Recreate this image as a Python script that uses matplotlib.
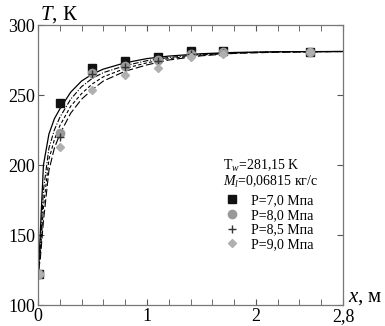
import matplotlib as mpl

mpl.use("Agg")

import matplotlib.pyplot as plt
from matplotlib.ticker import MultipleLocator

# measured points
x_pts = [0.01, 0.2, 0.5, 0.8, 1.1, 1.4, 1.7, 2.5]
t_p70 = [122, 244, 269, 274, 277.5, 281.5, 281.5, 280.5]
t_p80 = [122, 223, 266, 271, 275, 279.5, 280.5, 280.5]
t_p85 = [122, 220, 265, 270, 274, 279, 280, 280.5]
t_p90 = [122, 213, 253.5, 264, 269.5, 277, 279, 280.5]

# calculated curves
x_cur = [0.005, 0.02, 0.05, 0.1, 0.15, 0.2, 0.3, 0.4, 0.5, 0.6, 0.8, 1.0, 1.2, 1.5, 1.8, 2.2, 2.8]
c_p70 = [125, 150, 200, 222, 233, 240, 252, 260, 265, 268.5, 273, 276, 277.8, 279.5, 280.4, 280.9, 281.1]
c_p80 = [125, 140, 182, 212, 225, 234, 247, 256, 262, 266, 271, 274.5, 276.8, 279, 280.2, 280.8, 281.1]
c_p85 = [125, 135, 170, 204, 218, 228, 242, 251, 258, 263, 269, 273, 276, 278.5, 280, 280.8, 281.1]
c_p90 = [125, 132, 160, 196, 212, 222, 237, 247, 254, 260, 267, 271.5, 275, 278, 279.7, 280.6, 281]

labels = ["P=7,0 Мпа", "P=8,0 Мпа", "P=8,5 Мпа", "P=9,0 Мпа"]

plt.rcParams["font.family"] = ["Liberation Serif", "DejaVu Serif"]
plt.rcParams["mathtext.fontset"] = "custom"
plt.rcParams["mathtext.rm"] = "Liberation Serif"
plt.rcParams["mathtext.it"] = "Liberation Serif:italic"

fig = plt.figure(figsize=(3.85, 3.26), dpi=100)
ax = fig.add_axes([0.0987, 0.0644, 0.7923, 0.8589])

ax.plot(x_cur, c_p70, color="black", linewidth=0.9, linestyle="-")
ax.plot(x_cur, c_p80, color="black", linewidth=0.8, linestyle=(0, (5, 1.5, 1, 1.5)))
ax.plot(x_cur, c_p85, color="black", linewidth=0.8, linestyle=(0, (3, 2)))
ax.plot(x_cur, c_p90, color="black", linewidth=0.8, linestyle=(0, (7, 2.5)))

h1, = ax.plot(x_pts, t_p70, "s", color="#111111", markersize=6, linestyle="none")
h2, = ax.plot(x_pts, t_p80, "o", color="#999999", markersize=6, linestyle="none")
h3, = ax.plot(x_pts, t_p85, "+", color="#333333", markersize=6, linestyle="none")
h4, = ax.plot(x_pts, t_p90, "D", color="#b0b0b0", markersize=4.5, linestyle="none")

ax.set_xlim(0, 2.8)
ax.set_ylim(100, 300)
ax.set_xticks([0, 1, 2, 2.8])
ax.set_xticklabels(["0", "1", "2", "2,8"])
ax.xaxis.set_minor_locator(MultipleLocator(0.2))
ax.set_yticks([100, 150, 200, 250, 300])
ax.tick_params(axis="both", which="both", direction="in", top=True, right=True,
               labelsize=13, color="#555555")
ax.tick_params(axis="both", which="major", length=4, pad=2)
ax.tick_params(axis="both", which="minor", length=4)
for spine in ax.spines.values():
    spine.set_color("#777777")
    spine.set_linewidth(0.9)

fig.text(0.105, 0.955, "$\\mathit{T}$, К", fontsize=15, ha="left", va="center")
fig.text(0.905, 0.087, "$\\mathit{x}$, м", fontsize=15, ha="left", va="center")

ax.text(0.605, 0.495, "T$_w$=281,15 K", transform=ax.transAxes, fontsize=10, va="center")
ax.text(0.605, 0.44, "$\\mathit{M}_l$=0,06815 кг/с", transform=ax.transAxes, fontsize=10, va="center")
ax.legend([h1, h2, h3, h4], labels, loc="upper left", bbox_to_anchor=(0.585, 0.42),
          frameon=False, fontsize=10, handletextpad=0.8, labelspacing=0.12,
          borderpad=0, handlelength=1.2)

fig.savefig("out.png", dpi=100)
